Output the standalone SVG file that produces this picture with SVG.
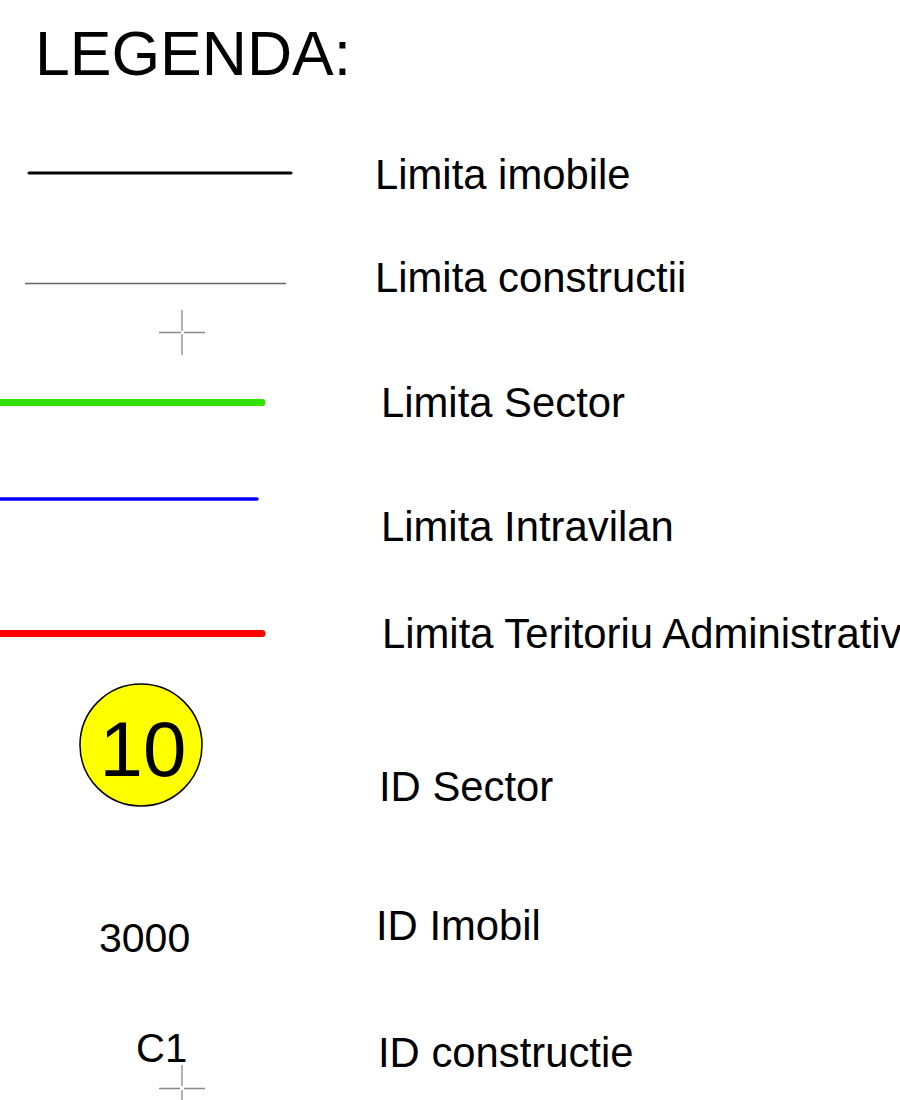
<svg xmlns="http://www.w3.org/2000/svg" width="900" height="1100" viewBox="0 0 900 1100">
<style>
text{font-family:"Liberation Sans",Arial,sans-serif;fill:#000}
.lbl{font-size:41.8px}
.cross{stroke:#888;stroke-width:1.3;fill:none}
</style>
<rect width="900" height="1100" fill="#fff"/>
<text x="35" y="75" style="font-size:62.5px">LEGENDA:</text>
<g id="imobile">
<line x1="29" y1="173" x2="291" y2="173" stroke="#000" stroke-width="3" stroke-linecap="round"/>
<text class="lbl" x="375" y="189">Limita imobile</text>
</g>
<g id="constructii">
<line x1="25" y1="283.5" x2="286" y2="283.5" stroke="#666" stroke-width="1.3"/>
<path class="cross" d="M182 310V331M182 334V355M159 332.5H181M184 332.5H205"/>
<text class="lbl" x="375" y="292">Limita constructii</text>
</g>
<g id="sector">
<line x1="0" y1="402.5" x2="262" y2="402.5" stroke="#33e000" stroke-width="7" stroke-linecap="round"/>
<text class="lbl" x="381" y="417">Limita Sector</text>
</g>
<g id="intravilan">
<line x1="0" y1="499" x2="257" y2="499" stroke="#0000ff" stroke-width="3.5" stroke-linecap="round"/>
<text class="lbl" x="381" y="541">Limita Intravilan</text>
</g>
<g id="teritoriu">
<line x1="0" y1="633.5" x2="262" y2="633.5" stroke="#ff0000" stroke-width="7" stroke-linecap="round"/>
<text class="lbl" x="382" y="648">Limita Teritoriu Administrativ</text>
</g>
<g id="idsector">
<circle cx="141" cy="745" r="61" fill="#ffff00" stroke="#000" stroke-width="1.5"/>
<text x="143" y="776" text-anchor="middle" style="font-size:78px">10</text>
<text class="lbl" x="379" y="801">ID Sector</text>
</g>
<g id="idimobil">
<text x="99" y="952" style="font-size:41px">3000</text>
<text class="lbl" x="376" y="940">ID Imobil</text>
</g>
<g id="idconstructie">
<text x="136" y="1062" style="font-size:40px">C1</text>
<path class="cross" d="M182 1065V1086M182 1090V1100M159 1088.5H180M184 1088.5H205"/>
<text class="lbl" x="378" y="1067">ID constructie</text>
</g>
</svg>
